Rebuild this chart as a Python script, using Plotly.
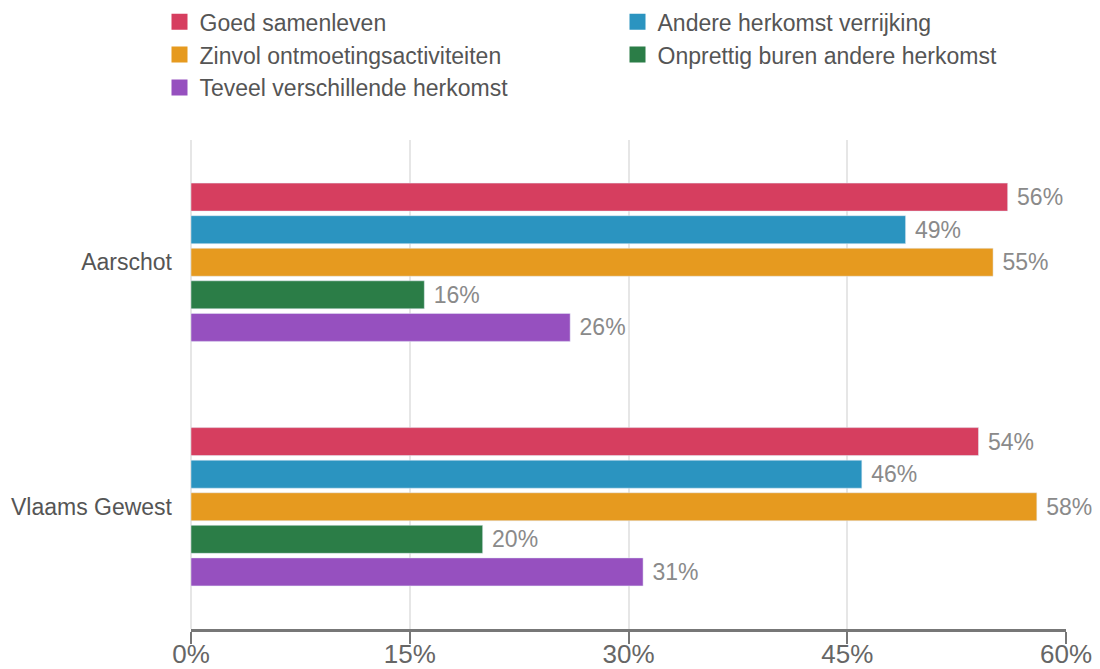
import plotly.graph_objects as go

categories = ["Aarschot", "Vlaams Gewest"]
series_names = ["Goed samenleven", "Andere herkomst verrijking", "Zinvol ontmoetingsactiviteiten",
                "Onprettig buren andere herkomst", "Teveel verschillende herkomst"]
values = {
    "Goed samenleven": [56, 54],
    "Andere herkomst verrijking": [49, 46],
    "Zinvol ontmoetingsactiviteiten": [55, 58],
    "Onprettig buren andere herkomst": [16, 20],
    "Teveel verschillende herkomst": [26, 31],
}
colors = ["#d63e5f", "#2b94c0", "#e69a1f", "#2b7d47", "#9650bf"]
tick_vals = [0, 15, 30, 45, 60]
tick_text = ["0%", "15%", "30%", "45%", "60%"]

fig = go.Figure()
for name, c in zip(series_names, colors):
    fig.add_trace(go.Bar(
        y=categories, x=values[name], name=name, orientation="h",
        marker=dict(color=c), showlegend=False,
        text=[f" {v}%" for v in values[name]], textposition="outside",
        textfont=dict(color="#8a8a8a", size=23, family="Liberation Sans"),
        cliponaxis=False,
    ))
# legend entries
for name, c in zip(series_names, colors):
    fig.add_trace(go.Scatter(
        x=[None], y=[None], mode="markers", name=name,
        marker=dict(symbol="square", size=22, color=c),
        showlegend=True,
    ))

fig.update_layout(
    width=1092, height=661,
    margin=dict(l=183, r=34, t=132, b=40, autoexpand=False),
    paper_bgcolor="white", plot_bgcolor="white",
    barmode="group", bargap=0.334, bargroupgap=0.14,
    font=dict(family="Liberation Sans", color="#555555", size=23),
    legend=dict(
        orientation="h", x=-0.036, y=1.063, yanchor="bottom",
        xanchor="left",
        entrywidth=413, entrywidthmode="pixels",
        font=dict(size=23, color="#555555", family="Liberation Sans"),
        itemsizing="trace", tracegroupgap=0,
    ),
    xaxis=dict(
        range=[0, 60], tickvals=tick_vals, ticktext=tick_text,
        showgrid=True, gridcolor="#e6e6e6", gridwidth=1.5,
        zeroline=True, zerolinecolor="#e6e6e6", zerolinewidth=1.5,
        showline=True, linecolor="#777777", linewidth=2.5,
        ticks="outside", ticklen=12, tickcolor="#777777", tickwidth=2,
        ticklabelstandoff=-12,
        tickfont=dict(size=26, color="#666666", family="Liberation Sans"),
        fixedrange=True, automargin=False,
    ),
    yaxis=dict(
        autorange="reversed", showgrid=False, showline=False,
        ticks="", ticklabelstandoff=18, automargin=False,
        tickfont=dict(size=23, color="#555555"),
    ),
)

fig.write_html("out.html")
